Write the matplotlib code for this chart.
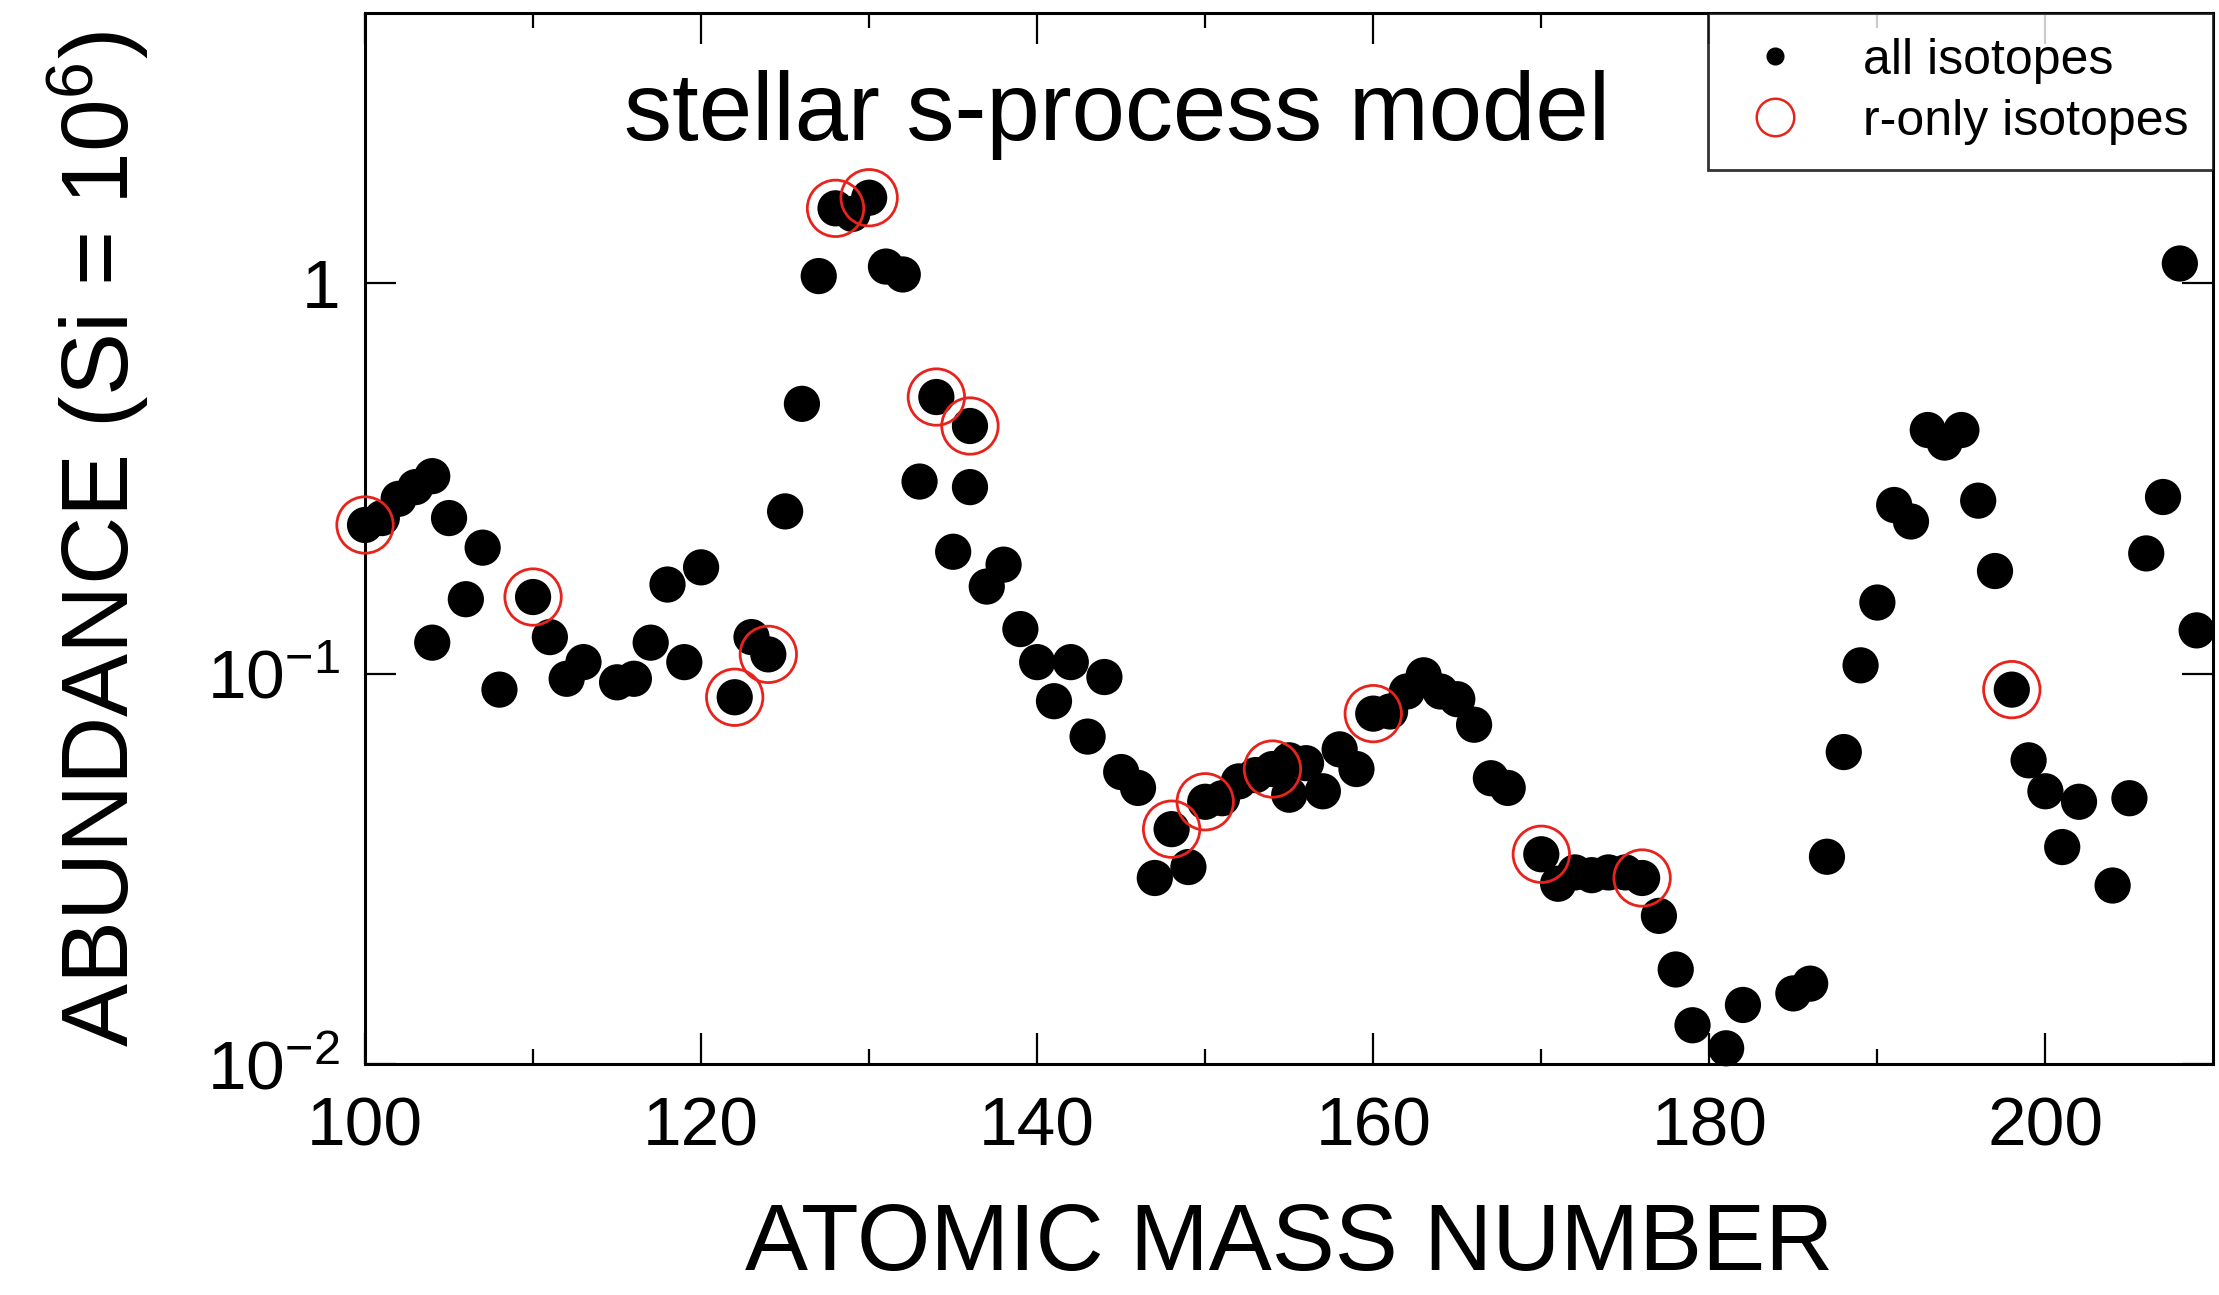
import matplotlib
matplotlib.use("Agg")
import matplotlib.pyplot as plt
from matplotlib.lines import Line2D

# Data
mass_all = [100, 101, 102, 103, 104, 104, 105, 106, 107, 108,
            110, 111, 112, 113, 115, 116, 117, 118, 119, 120,
            122, 123, 124, 125, 126, 127, 128, 129, 130, 131,
            132, 133, 134, 135, 136, 136, 137, 138, 139, 140,
            141, 142, 143, 144, 145, 146, 147, 148, 149, 150,
            151, 152, 153, 154, 155, 155, 156, 157, 158, 159,
            160, 161, 162, 163, 164, 165, 166, 167, 168, 170,
            171, 172, 173, 174, 175, 176, 177, 178, 179, 181,
            182, 185, 186, 187, 188, 189, 190, 191, 192, 193,
            194, 195, 196, 197, 198, 199, 200, 201, 202, 204,
            205, 206, 207, 208, 209]
abund_all = [0.24, 0.25, 0.28, 0.30, 0.32, 0.12, 0.25, 0.155, 0.21, 0.091,
             0.157, 0.124, 0.097, 0.107, 0.095, 0.097, 0.12, 0.169, 0.107, 0.187,
             0.087, 0.124, 0.112, 0.26, 0.49, 1.04, 1.55, 1.50, 1.65, 1.10,
             1.05, 0.31, 0.51, 0.205, 0.43, 0.30, 0.167, 0.19, 0.13, 0.107,
             0.085, 0.107, 0.069, 0.098, 0.056, 0.051, 0.030, 0.040, 0.032, 0.047,
             0.048, 0.053, 0.055, 0.057, 0.060, 0.049, 0.059, 0.050, 0.064, 0.057,
             0.079, 0.080, 0.090, 0.099, 0.090, 0.086, 0.074, 0.054, 0.051, 0.0345,
             0.029, 0.031, 0.0305, 0.031, 0.031, 0.030, 0.024, 0.0175, 0.0126, 0.011,
             0.0142, 0.0152, 0.0161, 0.034, 0.063, 0.105, 0.152, 0.27, 0.245, 0.42,
             0.39, 0.42, 0.277, 0.183, 0.091, 0.060, 0.050, 0.036, 0.047, 0.0287,
             0.048, 0.203, 0.283, 1.12, 0.129]

mass_r = [100, 110, 122, 124, 128, 130, 134, 136, 148, 150, 154, 160, 170, 176, 198]
abund_r = [0.24, 0.157, 0.087, 0.112, 1.55, 1.65, 0.51, 0.43, 0.040, 0.047,
           0.057, 0.079, 0.0345, 0.030, 0.091]

plt.rcParams['font.family'] = ['Liberation Sans', 'DejaVu Sans']
plt.rcParams['mathtext.fontset'] = 'custom'
plt.rcParams['mathtext.rm'] = 'Liberation Sans'
plt.rcParams['mathtext.it'] = 'Liberation Sans'

fig = plt.figure(figsize=(22.19, 12.95), dpi=100)
ax = fig.add_axes([0.1645, 0.178, 0.833, 0.812])

ax.scatter(mass_all, abund_all, s=680, c='black', edgecolors='none', zorder=3,
           clip_on=False)
ax.scatter(mass_r, abund_r, s=1650, facecolors='none', edgecolors='#e8231c',
           linewidths=2.0, zorder=4, clip_on=False)

ax.set_yscale('log')
ax.set_xlim(100, 210)
ax.set_ylim(0.01, 4.9)

ax.set_xticks([100, 120, 140, 160, 180, 200])
ax.set_xticks([110, 130, 150, 170, 190], minor=True)
ax.set_yticks([0.01, 0.1, 1])
ax.set_yticklabels(['$10^{-2}$', '$10^{-1}$', '1'])
ax.yaxis.set_minor_locator(matplotlib.ticker.NullLocator())

ax.tick_params(axis='both', which='major', direction='in', length=22, width=1.6,
               labelsize=50, top=True, right=True)
ax.tick_params(axis='x', which='minor', direction='in', length=11, width=1.6,
               top=True)
ax.tick_params(axis='x', which='major', pad=22)
ax.tick_params(axis='y', which='major', pad=18)
for sp in ax.spines.values():
    sp.set_linewidth(2.2)

ax.set_xlabel('ATOMIC MASS NUMBER', fontsize=68, labelpad=30)
ax.set_ylabel('ABUNDANCE (Si = 10$^6$)', fontsize=68, labelpad=40)

ax.text(0.407, 0.903, 'stellar s-process model', transform=ax.transAxes,
        fontsize=69, ha='center', va='center')

handles = [
    Line2D([], [], marker='o', linestyle='none', color='black', markersize=12),
    Line2D([], [], marker='o', linestyle='none', markerfacecolor='none',
           markeredgecolor='#e8231c', markeredgewidth=1.8, markersize=27),
]
leg = ax.legend(handles, ['all isotopes', 'r-only isotopes'], loc='upper right',
                fontsize=36, frameon=True, fancybox=False, borderaxespad=0,
                handletextpad=0.9, handlelength=1.7, borderpad=0.5,
                labelspacing=0.3)
leg.get_frame().set_edgecolor('black')
leg.get_frame().set_linewidth(2.0)

fig.savefig('out.png', dpi=100)
